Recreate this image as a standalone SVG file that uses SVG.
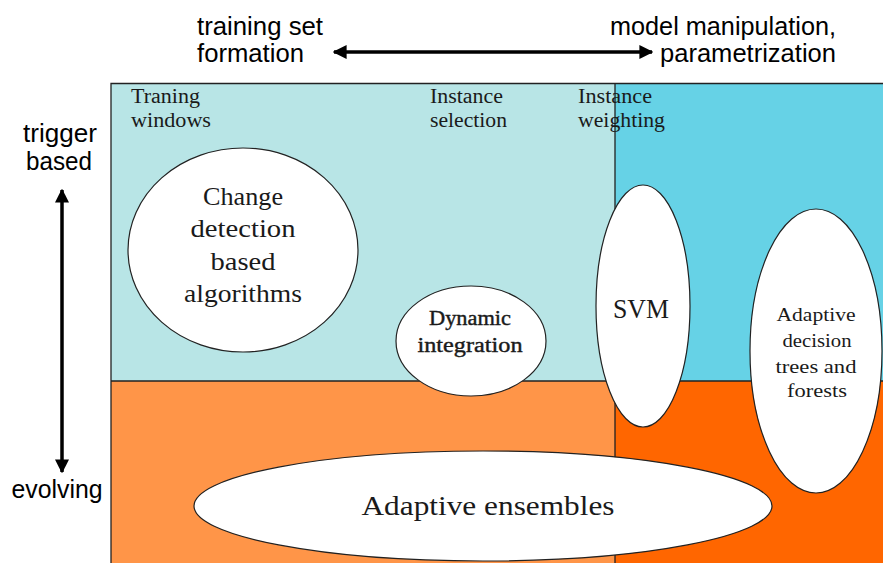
<svg xmlns="http://www.w3.org/2000/svg" width="883" height="563" viewBox="0 0 883 563">
<style>
.sans{font-family:"Liberation Sans",Arial,sans-serif;font-size:25px;fill:#000}
.ser{font-family:"Liberation Serif","Times New Roman",serif;fill:#1a1a1a}
.lbl{font-size:20px}
.node{fill:#fff;stroke:#222;stroke-width:1.2}
.div{stroke:#222;stroke-width:1.3;fill:none}
.arr{stroke:#000;stroke-width:3.5;fill:none}
</style>
<defs>
<marker id="ah" viewBox="0 0 10 10" refX="9" refY="5" markerWidth="4" markerHeight="4" orient="auto-start-reverse" markerUnits="strokeWidth">
<path d="M0,0 L10,5 L0,10 Z" fill="#000"/>
</marker>
</defs>
<rect width="883" height="563" fill="#fff"/>
<g id="quadrants">
<rect x="111" y="83" width="504" height="298" fill="#B8E5E6"/>
<rect x="615" y="83" width="268" height="298" fill="#66D2E6"/>
<rect x="111" y="381" width="504" height="182" fill="#FF9548"/>
<rect x="615" y="381" width="268" height="182" fill="#FF6600"/>
<path class="div" d="M111,563 V83.5 H883 M615,83 V563 M111,381 H883"/>
</g>
<g id="axes">
<line class="arr" x1="334" y1="52" x2="652" y2="52" stroke-width="3" marker-start="url(#ah)" marker-end="url(#ah)"/>
<line class="arr" x1="62" y1="190" x2="62" y2="472" stroke-width="4" marker-start="url(#ah)" marker-end="url(#ah)"/>
</g>
<g id="axis-labels">
<text class="sans" x="197" y="35" textLength="126" lengthAdjust="spacingAndGlyphs">training set</text>
<text class="sans" x="197" y="62" textLength="107" lengthAdjust="spacingAndGlyphs">formation</text>
<text class="sans" x="836" y="35" text-anchor="end" textLength="226" lengthAdjust="spacingAndGlyphs">model manipulation,</text>
<text class="sans" x="836" y="62" text-anchor="end" textLength="176" lengthAdjust="spacingAndGlyphs">parametrization</text>
<text class="sans" x="60" y="142" text-anchor="middle" textLength="74" lengthAdjust="spacingAndGlyphs">trigger</text>
<text class="sans" x="59" y="170" text-anchor="middle" textLength="66" lengthAdjust="spacingAndGlyphs">based</text>
<text class="sans" x="57" y="498" text-anchor="middle" textLength="91" lengthAdjust="spacingAndGlyphs">evolving</text>
</g>
<g id="column-labels" class="ser lbl">
<text x="131" y="103" textLength="69" lengthAdjust="spacingAndGlyphs">Traning</text>
<text x="131" y="127" textLength="80" lengthAdjust="spacingAndGlyphs">windows</text>
<text x="430" y="103" textLength="73" lengthAdjust="spacingAndGlyphs">Instance</text>
<text x="430" y="127" textLength="77" lengthAdjust="spacingAndGlyphs">selection</text>
<text x="578" y="103" textLength="74" lengthAdjust="spacingAndGlyphs">Instance</text>
<text x="578" y="127" textLength="87" lengthAdjust="spacingAndGlyphs">weighting</text>
</g>
<g id="change-detection">
<ellipse class="node" cx="243" cy="250" rx="115" ry="102"/>
<g class="ser" font-size="26" text-anchor="middle">
<text x="243" y="205" textLength="80" lengthAdjust="spacingAndGlyphs">Change</text>
<text x="243" y="237" textLength="105" lengthAdjust="spacingAndGlyphs">detection</text>
<text x="243" y="270" textLength="65" lengthAdjust="spacingAndGlyphs">based</text>
<text x="243" y="302" textLength="118" lengthAdjust="spacingAndGlyphs">algorithms</text>
</g>
</g>
<g id="dynamic-integration">
<ellipse class="node" cx="471" cy="341" rx="75" ry="55"/>
<g class="ser" font-size="20" stroke="#1a1a1a" stroke-width="0.4" text-anchor="middle">
<text x="470" y="325" textLength="82" lengthAdjust="spacingAndGlyphs">Dynamic</text>
<text x="470" y="352" textLength="105" lengthAdjust="spacingAndGlyphs">integration</text>
</g>
</g>
<g id="svm">
<ellipse class="node" cx="643" cy="306" rx="47" ry="121"/>
<text class="ser" x="641" y="318" font-size="27" text-anchor="middle" textLength="56" lengthAdjust="spacingAndGlyphs">SVM</text>
</g>
<g id="adaptive-trees">
<ellipse class="node" cx="816" cy="351" rx="66" ry="142"/>
<g class="ser" font-size="19" text-anchor="middle">
<text x="816" y="321" textLength="79" lengthAdjust="spacingAndGlyphs">Adaptive</text>
<text x="817" y="347" textLength="69" lengthAdjust="spacingAndGlyphs">decision</text>
<text x="816" y="373" textLength="81" lengthAdjust="spacingAndGlyphs">trees and</text>
<text x="817" y="397" textLength="60" lengthAdjust="spacingAndGlyphs">forests</text>
</g>
</g>
<g id="adaptive-ensembles">
<ellipse class="node" cx="483" cy="506" rx="289" ry="55"/>
<text class="ser" x="488" y="515" font-size="27" text-anchor="middle" textLength="253" lengthAdjust="spacingAndGlyphs">Adaptive ensembles</text>
</g>
</svg>
